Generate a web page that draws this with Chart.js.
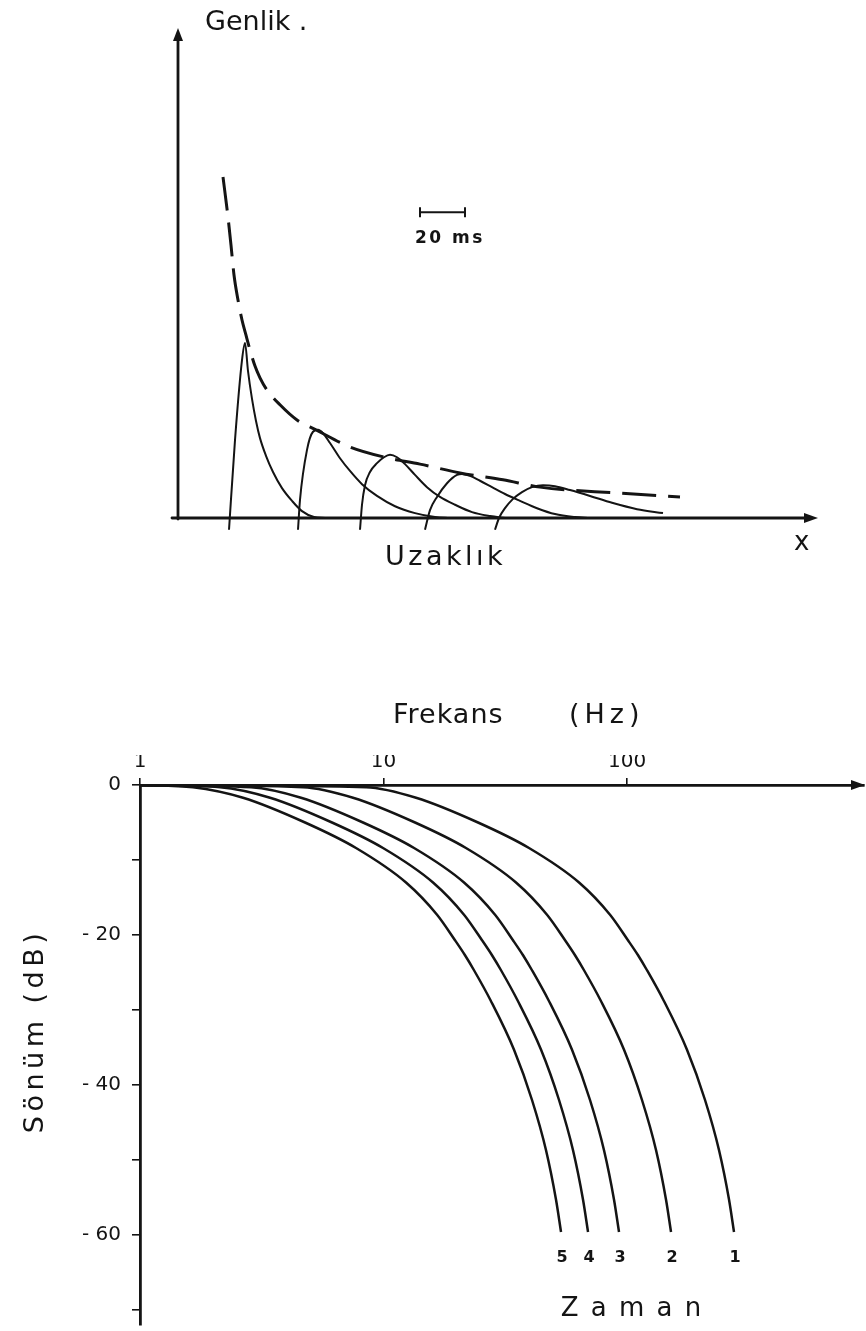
<!DOCTYPE html>
<html><head><meta charset="utf-8">
<script src="https://cdn.jsdelivr.net/npm/chart.js@4.4.1/dist/chart.umd.min.js"></script>
<style>
html,body{margin:0;padding:0;background:#fff;}
#wrap{position:relative;width:866px;height:1331px;background:#fff;}
canvas{position:absolute;left:0;top:0;}
</style></head><body>
<div id="wrap"><canvas id="c1" width="866" height="1331"></canvas><canvas id="c2" width="866" height="1331"></canvas></div>
<script>
// ---------- TOP CHART DATA (Genlik vs Uzaklık) ----------
const envelope = [
  {x:22.5,y:69.6},{x:25,y:61.4},{x:26.5,y:55.7},{x:28,y:49.6},{x:30,y:44.5},{x:32,y:40.4},
  {x:34,y:37.3},{x:36,y:34.3},{x:38.5,y:31.0},{x:41,y:28.6},{x:44.5,y:26.1},{x:51,y:23.1},
  {x:59.5,y:20.0},{x:69,y:18.0},{x:86,y:14.5},{x:103.5,y:12.4},{x:121,y:11.0},{x:141,y:9.2},
  {x:162.5,y:7.8},{x:181,y:6.3},{x:219.5,y:5.1},{x:251,y:4.3}
];
const pulse1 = [
  {x:25.5,y:-2.4},{x:28.5,y:15.9},{x:32,y:32.2},{x:33.5,y:35.7},{x:35,y:30.0},{x:37,y:24.3},
  {x:39,y:19.8},{x:41,y:16.3},{x:44,y:12.7},{x:47.5,y:9.4},{x:52,y:6.1},{x:57,y:3.5},
  {x:62,y:1.4},{x:68,y:0.2},{x:73.5,y:0}
];
const pulse2 = [
  {x:60,y:-2.4},{x:61,y:3.7},{x:64.5,y:13.9},{x:67.5,y:17.6},{x:70,y:18.0},{x:72.5,y:17.3},
  {x:76,y:15.3},{x:81,y:12.2},{x:86,y:9.6},{x:92,y:6.9},{x:99.5,y:4.5},{x:108.5,y:2.4},
  {x:118.5,y:1.0},{x:128.5,y:0.2},{x:136,y:0}
];
const pulse3 = [
  {x:91,y:-2.4},{x:92,y:2.7},{x:93.5,y:6.7},{x:96,y:9.4},{x:99.5,y:11.2},{x:103,y:12.4},
  {x:106,y:12.9},{x:109.5,y:12.4},{x:113.5,y:11.0},{x:118.5,y:8.8},{x:124.5,y:6.3},{x:131,y:4.3},
  {x:138.5,y:2.7},{x:147,y:1.2},{x:156,y:0.4},{x:163.5,y:0}
];
const pulse4 = [
  {x:123.5,y:-2.4},{x:126,y:1.6},{x:129.5,y:4.3},{x:134.5,y:7.1},{x:139.5,y:8.8},{x:142,y:9.0},
  {x:146,y:8.6},{x:151,y:7.6},{x:157,y:6.3},{x:163.5,y:4.9},{x:171,y:3.5},{x:179.5,y:2.0},
  {x:188.5,y:0.8},{x:198.5,y:0.2},{x:206,y:0}
];
const pulse5 = [
  {x:158.5,y:-2.4},{x:160.5,y:0},{x:163.5,y:2.0},{x:167.5,y:3.9},{x:172,y:5.3},{x:177,y:6.3},
  {x:182.5,y:6.7},{x:188.5,y:6.5},{x:196,y:5.7},{x:206,y:4.5},{x:217,y:3.1},{x:229.5,y:1.8},{x:242.5,y:1.0}
];
const scaleBar = [{x:121,y:62.4},{x:143.5,y:62.4}];
const scaleBarLabel = '20 ms';
const topYLabel = 'Genlik .';
const topXLabel = 'Uzaklık';
const topXSymbol = 'x';

// ---------- BOTTOM CHART DATA (Sönüm vs Frekans) ----------
const dbLevels = [0, -0.3, -1.7, -5.0, -8.4, -13.0, -17.3, -20.7, -22.7, -24.7, -28.7, -35.3, -42.0, -48.7, -55.3, -59.6];
const freq1 = [1, 8.478, 13.60, 24.44, 39.58, 63.53, 85.16, 100.9, 111.0, 120.8, 141.2, 176.3, 209.1, 238.7, 262.4, 275.0];
const freq2 = [1, 4.671, 7.494, 13.47, 21.81, 35.00, 46.93, 55.66, 61.16, 66.59, 77.85, 97.21, 115.2, 131.6, 144.6, 151.6];
const freq3 = [1, 2.857, 4.584, 8.237, 13.35, 21.41, 28.71, 34.02, 37.41, 40.72, 47.61, 59.44, 70.47, 80.44, 88.43, 92.71];
const freq4 = [1, 2.131, 3.420, 6.144, 9.953, 15.97, 21.41, 25.38, 27.90, 30.38, 35.50, 44.36, 52.57, 60.01, 65.97, 69.17];
const freq5 = [1, 1.651, 2.649, 4.762, 7.711, 12.37, 16.59, 19.66, 21.61, 23.53, 27.51, 34.35, 40.72, 46.49, 51.10, 53.58];
const curveNames = ['1','2','3','4','5'];
const freqTicks = [1, 10, 100];
const dbTicks = [0, -10, -20, -30, -40, -50, -60, -70];
const dbLabelled = [0, -20, -40, -60];
const xTitleA = 'Frekans';
const xTitleB = '(Hz)';
const yTitle = 'Sönüm (dB)';
const timeLabel = 'Z a m a n';

const INK = '#141414';
const FONT = '"DejaVu Sans", sans-serif';

function txt(ctx, s, x, y, size, opts={}){
  ctx.save();
  ctx.font = (opts.weight||'') + ' ' + size + 'px ' + FONT;
  ctx.fillStyle = INK;
  ctx.textAlign = opts.align || 'left';
  ctx.textBaseline = opts.base || 'alphabetic';
  if ('letterSpacing' in ctx) ctx.letterSpacing = (opts.ls||0) + 'px';
  if (opts.rot){ ctx.translate(x,y); ctx.rotate(opts.rot); ctx.fillText(s,0,0); }
  else ctx.fillText(s, x, y);
  ctx.restore();
}
function tri(ctx, pts){
  ctx.beginPath(); ctx.moveTo(pts[0][0],pts[0][1]);
  for (let i=1;i<pts.length;i++) ctx.lineTo(pts[i][0],pts[i][1]);
  ctx.closePath(); ctx.fill();
}

// ---------- TOP CHART ----------
const topDecor = {
  id:'topDecor',
  beforeDatasetsDraw(chart){
    const {ctx, scales:{x,y}} = chart;
    const x0 = x.getPixelForValue(0), y0 = y.getPixelForValue(0);
    const yTop = y.getPixelForValue(100), xEnd = x.getPixelForValue(320);
    ctx.save();
    ctx.strokeStyle = INK; ctx.fillStyle = INK; ctx.lineWidth = 2.8; ctx.lineCap='round';
    ctx.beginPath(); ctx.moveTo(x0, y0+1); ctx.lineTo(x0, yTop+8); ctx.stroke();
    ctx.beginPath(); ctx.moveTo(x.getPixelForValue(-3), y0); ctx.lineTo(xEnd-8, y0); ctx.stroke();
    tri(ctx, [[x0, yTop],[x0-5, yTop+13],[x0+5, yTop+13]]);
    tri(ctx, [[xEnd, y0],[xEnd-14, y0-5],[xEnd-14, y0+5]]);
    ctx.restore();
    txt(ctx, topYLabel, x0+27, yTop+2, 27);
    txt(ctx, topXLabel, x.getPixelForValue(103.5), y0+47, 27, {ls:3.5});
    txt(ctx, topXSymbol, xEnd-24, y0+32, 26);
    const sb0 = x.getPixelForValue(scaleBar[0].x), sbY = y.getPixelForValue(scaleBar[0].y);
    txt(ctx, scaleBarLabel, sb0-5, sbY+31, 17, {ls:2.5, weight:'bold'});
  },
};
new Chart(document.getElementById('c1'), {
  type:'line',
  data:{datasets:[
    {data:envelope, borderColor:INK, borderWidth:3, borderDash:[34,12], cubicInterpolationMode:'monotone'},
    {data:pulse1, borderColor:INK, borderWidth:2, cubicInterpolationMode:'monotone'},
    {data:pulse2, borderColor:INK, borderWidth:2, cubicInterpolationMode:'monotone'},
    {data:pulse3, borderColor:INK, borderWidth:2, cubicInterpolationMode:'monotone'},
    {data:pulse4, borderColor:INK, borderWidth:2, cubicInterpolationMode:'monotone'},
    {data:pulse5, borderColor:INK, borderWidth:2, cubicInterpolationMode:'monotone'},
    {data:scaleBar, borderColor:INK, borderWidth:2, pointRadius:5, pointStyle:'line', rotation:90,
     pointBorderColor:INK, pointBorderWidth:2}
  ]},
  options:{
    responsive:false, animation:false, devicePixelRatio:1,
    layout:{padding:{left:178, right:48, top:28, bottom:1331-542.5}},
    plugins:{legend:{display:false}, tooltip:{enabled:false}},
    elements:{point:{radius:0}},
    scales:{
      x:{type:'linear', min:0, max:320, display:false},
      y:{type:'linear', min:-5, max:100, display:false}
    }
  },
  plugins:[topDecor]
});

// ---------- BOTTOM CHART ----------
const bottomDecor = {
  id:'bottomDecor',
  afterDraw(chart){
    const {ctx, chartArea:a, scales:{x,y}} = chart;
    ctx.save(); ctx.fillStyle = INK;
    const yz = y.getPixelForValue(0);
    tri(ctx, [[a.right+1, yz],[a.right-13, yz-5],[a.right-13, yz+5]]);
    ctx.restore();
    txt(ctx, xTitleA, 393, yz-62, 27, {ls:1});
    txt(ctx, xTitleB, 569, yz-62, 27, {ls:5});
    txt(ctx, yTitle, 43, 1031, 27, {rot:-Math.PI/2, align:'center', ls:4.5});
    chart.data.datasets.forEach((ds, i) => {
      const meta = chart.getDatasetMeta(i);
      const p = meta.data[meta.data.length-1];
      txt(ctx, ds.label, p.x+1, p.y+30, 16, {align:'center', weight:'bold'});
    });
    txt(ctx, timeLabel, 632, 1316, 26, {align:'center', ls:2});
  }
};
const freqSeries = [freq1, freq2, freq3, freq4, freq5];
new Chart(document.getElementById('c2'), {
  type:'line',
  data:{datasets: freqSeries.map((fs,i)=>({label:curveNames[i],
        data: fs.map((f,j)=>({x:f, y:dbLevels[j]})), borderColor:INK, borderWidth:2.5,
        cubicInterpolationMode:'monotone'}))},
  options:{
    responsive:false, animation:false, devicePixelRatio:1,
    layout:{padding:{left:0, right:2, top:755, bottom:6}},
    plugins:{legend:{display:false}, tooltip:{enabled:false}},
    elements:{point:{radius:0}},
    scales:{
      x:{type:'logarithmic', position:'top', min:1, max:940,
         afterBuildTicks:(s)=>{ s.ticks = freqTicks.map(v=>({value:v})); },
         afterFit:(s)=>{ s.height = 30; s.paddingLeft = 0; s.paddingRight = 0; },
         ticks:{callback:(v)=>String(v), color:INK, font:{family:FONT, size:20}, padding:4, maxRotation:0, autoSkip:false},
         grid:{display:true, drawOnChartArea:false, drawTicks:true, tickLength:7, color:INK, lineWidth:1.6},
         border:{display:true, color:INK, width:2.8}},
      y:{type:'linear', min:-72, max:0,
         afterBuildTicks:(s)=>{ s.ticks = dbTicks.map(v=>({value:v})); },
         afterFit:(s)=>{ s.width = 140; s.paddingTop = 0; s.paddingBottom = 0; },
         ticks:{callback:(v)=> dbLabelled.includes(v) ? (v===0 ? '0' : '- ' + Math.abs(v)) : '',
                color:INK, font:{family:FONT, size:20}, padding:11, autoSkip:false},
         grid:{display:true, drawOnChartArea:false, drawTicks:true, tickLength:8, color:INK, lineWidth:1.6},
         border:{display:true, color:INK, width:2.8}}
    }
  },
  plugins:[bottomDecor]
});
</script>
</body></html>
